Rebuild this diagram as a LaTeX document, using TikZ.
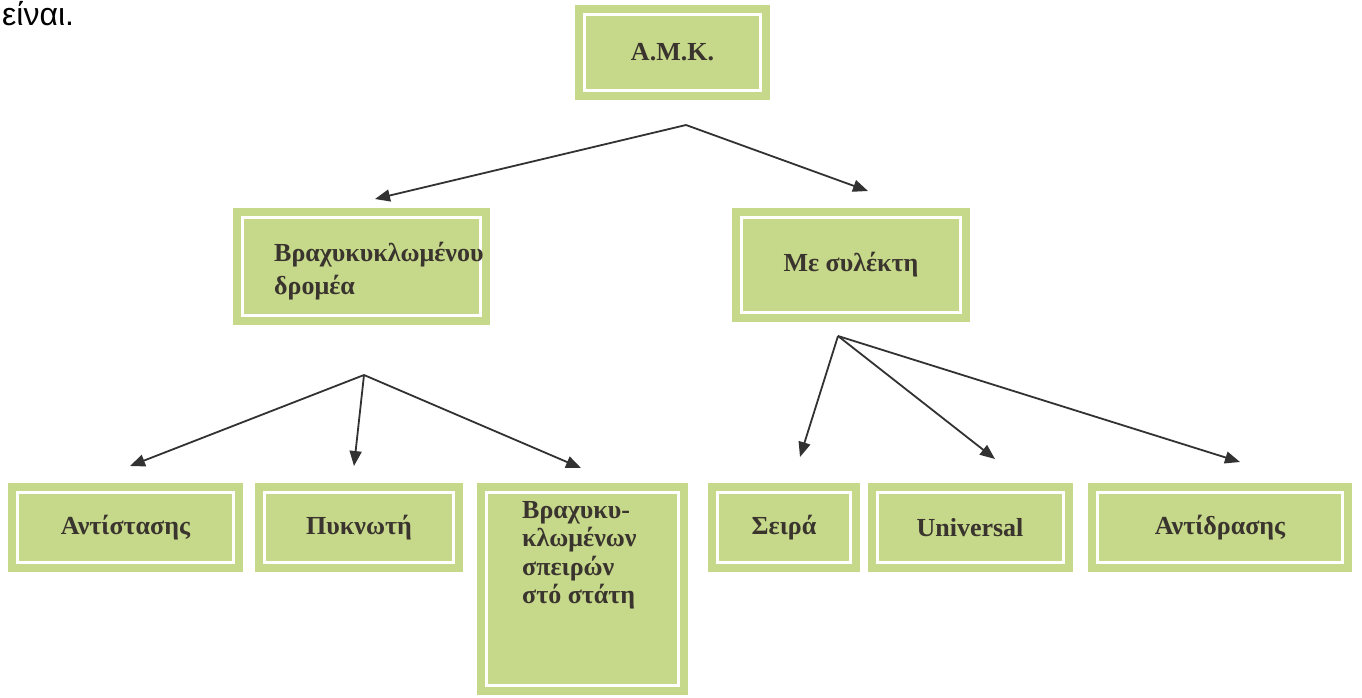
\documentclass[tikz,border=0pt]{standalone}
\usepackage{fontspec}
\setmainfont{Liberation Serif}
\newfontfamily\pagefont{Liberation Sans}
\usetikzlibrary{arrows.meta}
\definecolor{boxgreen}{RGB}{198,216,138}
\definecolor{txt}{RGB}{58,52,46}
\definecolor{arr}{RGB}{50,50,50}
\begin{document}
\begin{tikzpicture}[x=1pt,y=-1pt,
  gbox/.style={fill=boxgreen, draw=boxgreen, double=white, double distance=3pt, line width=8pt, inner sep=0pt, text=txt, font=\fontsize{26}{29}\selectfont\bfseries, align=center},
  gtext/.style={text=txt, inner sep=0pt, align=left},
  conn/.style={draw=arr, line width=1.8pt, -{Triangle[length=15pt,width=12pt]}}]
\useasboundingbox (0,0) rectangle (1362,697);
\clip (0,0) rectangle (1362,697);
\fill[white] (0,0) rectangle (1362,697);

\node[font=\pagefont\fontsize{32}{36}\selectfont, anchor=base west, inner sep=0pt] (pg) at (2,25) {είναι.};

\node[gbox, minimum width=176pt, minimum height=76pt] (amk) at (672.5,52.5) {Α.Μ.Κ.};
\node[gbox, minimum width=238pt, minimum height=98pt] (lmid) at (361.5,266.5) {};
\node[gtext, anchor=west, font=\fontsize{26}{33}\selectfont\bfseries] (lmidt) at (274,271) {Βραχυκυκλωμένου\\δρομέα};
\node[gbox, minimum width=219pt, minimum height=95pt] (rmid) at (851,265) {Με συλέκτη};

\node[gbox, minimum width=216pt, minimum height=70pt] (ant) at (125.5,527.5) {Αντίστασης};
\node[gbox, minimum width=189pt, minimum height=70pt] (pyk) at (359,527.5) {Πυκνωτή};
\node[gbox, minimum width=192pt, minimum height=193pt] (tall) at (582.5,589) {};
\node[gtext, anchor=west, font=\fontsize{26}{28.5}\selectfont\bfseries] (tallt) at (522,555) {Βραχυκυ-\\κλωμένων\\σπειρών\\στό στάτη};
\node[gbox, minimum width=133pt, minimum height=70pt] (seira) at (784,527.5) {Σειρά};
\node[gbox, minimum width=186pt, minimum height=70pt] (univ) at (970,527.5) {Universal};
\node[gbox, minimum width=245pt, minimum height=70pt] (antid) at (1220,527.5) {Αντίδρασης};

\coordinate (a0) at (686,125);
\coordinate (a1) at (375,199);
\coordinate (a2) at (868,191);
\coordinate (b0) at (364,375);
\coordinate (b1) at (130,466);
\coordinate (b2) at (354,466);
\coordinate (b3) at (581,468);
\coordinate (c0) at (838,336);
\coordinate (c1) at (800,457);
\coordinate (c2) at (995,459);
\coordinate (c3) at (1240,462);

\draw[conn] (a0) -- (a1);
\draw[conn] (a0) -- (a2);
\draw[conn] (b0) -- (b1);
\draw[conn] (b0) -- (b2);
\draw[conn] (b0) -- (b3);
\draw[conn] (c0) -- (c1);
\draw[conn] (c0) -- (c2);
\draw[conn] (c0) -- (c3);
\end{tikzpicture}
\end{document}
